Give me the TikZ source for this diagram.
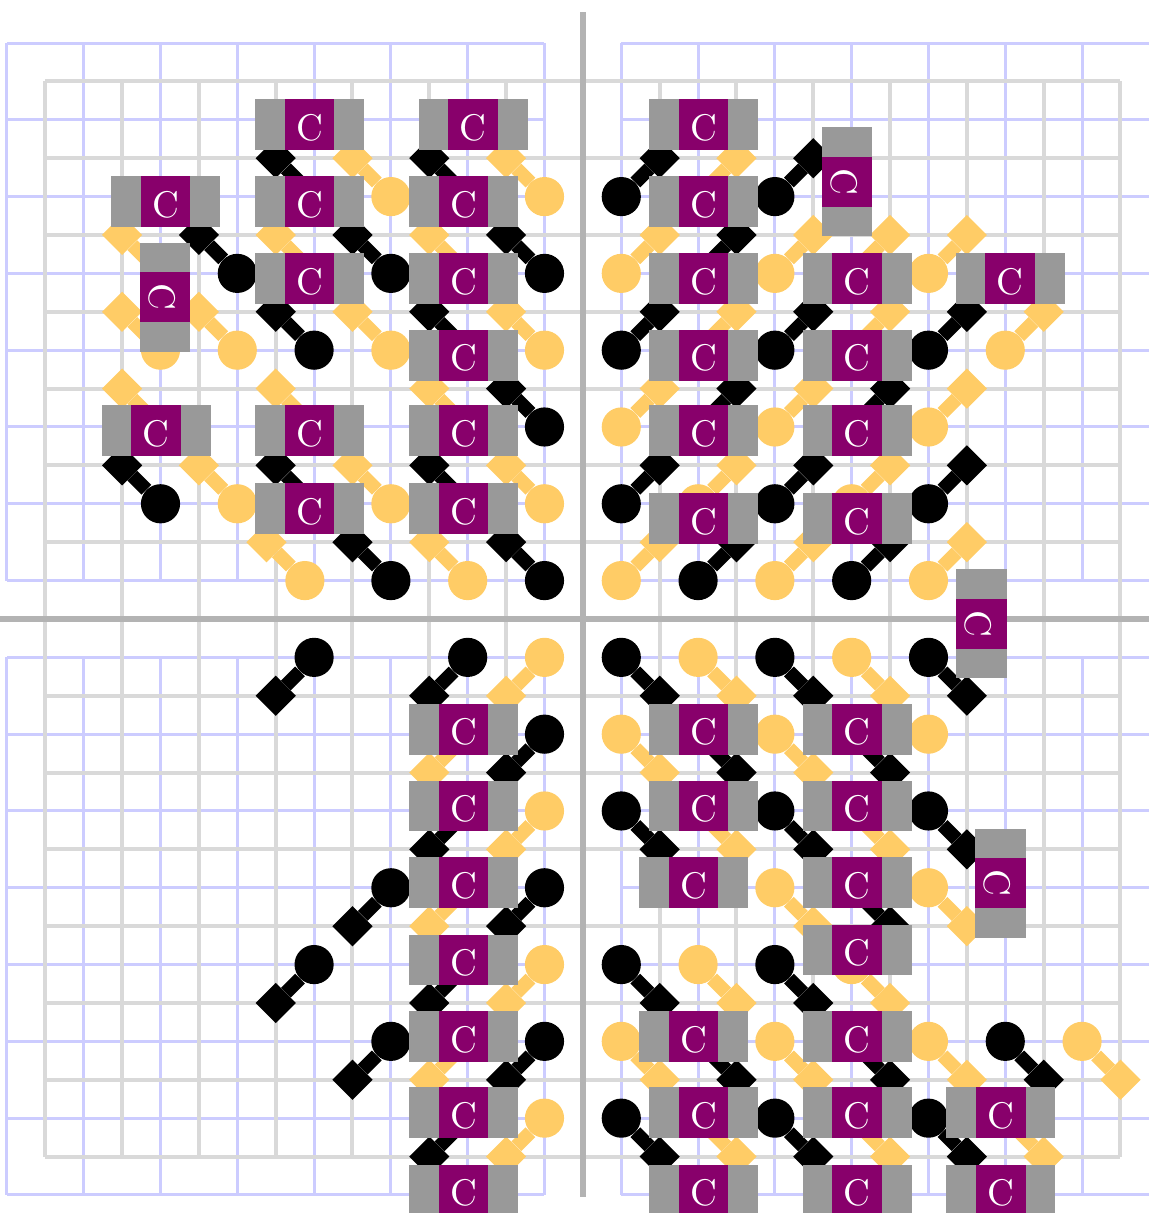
\documentclass[tikz,border=0pt]{standalone}
\usepackage{fontspec}
\newfontfamily\capfont{lmroman10-regular.otf}
\usepackage{tikz}
\usetikzlibrary{calc}
\definecolor{gridgray}{RGB}{217,217,217}
\definecolor{gridblue}{RGB}{204,204,255}
\definecolor{axisgray}{RGB}{179,179,179}
\definecolor{padgray}{RGB}{153,153,153}
\definecolor{chippurple}{RGB}{136,0,107}
\definecolor{amber}{RGB}{255,204,102}

\begin{document}
\begin{tikzpicture}[
    ball/.style={circle, fill=#1, inner sep=0pt, minimum size=1.02cm},
    tip/.style={rectangle, fill=#1, inner sep=0pt, minimum size=0.74cm, rotate=45},
    stick/.style={draw=#1, line width=0.36cm},
    pad/.style={rectangle, fill=padgray, inner sep=0pt, minimum width=2.84cm, minimum height=1.32cm},
    chip/.style={rectangle, fill=chippurple, inner sep=0pt, minimum width=1.3cm, minimum height=1.32cm,
        text=white, text height=0.82cm, text depth=0cm, font=\capfont\fontsize{27.5}{27.5}\selectfont},
    bluegrid/.style={gridblue, line width=0.078cm},
    graygrid/.style={gridgray, line width=0.104cm},
    axisline/.style={axisgray, line width=0.15cm}
]
    \useasboundingbox (-15.18,-15.47) rectangle (14.74,16.12);
    \clip (-15.18,-15.47) rectangle (14.74,16.12);

    % Grids and axes
    \foreach \qx/\qy in {-16/0, 0/0, -16/-16, 0/-16}
        \draw[bluegrid, shift={(1,1)}] (\qx,\qy) grid[step=2] +(14,14);
    \draw[graygrid] (-14,-14) grid[step=2] (14,14);
    \draw[axisline] (-16,0) -- (16,0);
    \draw[axisline] (0,-15.05) -- (0,15.8);

    % Pins, upper left
    \foreach \x/\y/\c [count=\i] in {-1/11/amber, -1/9/black, -1/7/amber, -1/5/black, -1/3/amber, -1/1/black,
        -3/11/black, -3/9/amber, -3/7/black, -3/5/amber, -3/3/black, -3/1/amber,
        -5/11/amber, -5/9/black, -5/7/amber, -5/3/amber, -5/1/black,
        -7/11/black, -7/9/amber, -7/7/black, -7/5/amber, -7/3/black, -7.24/1/amber,
        -9/9/black, -9/7/amber, -9/3/amber,
        -11/9/amber, -11/7/amber, -11/5/amber, -11/3/black}{
        \node[ball=\c] (ulb\i) at (\x,\y) {};
        \node[tip=\c] (ult\i) at (\x-1,\y+1) {};
        \draw[stick=\c] (ulb\i) -- (ult\i);
    }

    % Pins, upper right
    \foreach \x/\y/\c [count=\i] in {1/11/black, 1/9/amber, 1/7/black, 1/5/amber, 1/3/black, 1/1/amber,
        3/11/amber, 3/9/black, 3/7/amber, 3/5/black, 3/3/amber, 3/1/black,
        5/11/black, 5/9/amber, 5/7/black, 5/5/amber, 5/3/black, 5/1/amber,
        7/9/amber, 7/7/amber, 7/5/black, 7/3/amber, 7/1/black,
        9/9/amber, 9/7/black, 9/5/amber, 9/3/black, 9/1/amber,
        11/7/amber}{
        \node[ball=\c] (urb\i) at (\x,\y) {};
        \node[tip=\c] (urt\i) at (\x+1,\y+1) {};
        \draw[stick=\c] (urb\i) -- (urt\i);
    }

    % Pins, lower left
    \foreach \x/\y/\c [count=\i] in {-1/-1/amber, -1/-3/black, -1/-5/amber, -1/-7/black, -1/-9/amber, -1/-11/black, -1/-13/amber,
        -3/-1/black, -3/-3/amber, -3/-5/black, -3/-7/amber, -3/-9/black, -3/-11/amber, -3/-13/black,
        -5/-7/black, -5/-11/black,
        -7/-1/black, -7/-9/black}{
        \node[ball=\c] (llb\i) at (\x,\y) {};
        \node[tip=\c] (llt\i) at (\x-1,\y-1) {};
        \draw[stick=\c] (llb\i) -- (llt\i);
    }

    % Pins, lower right
    \foreach \x/\y/\c [count=\i] in {1/-1/black, 1/-3/amber, 1/-5/black, 1/-9/black, 1/-11/amber, 1/-13/black,
        3/-1/amber, 3/-3/black, 3/-5/amber, 3/-9/amber, 3/-11/black, 3/-13/amber,
        5/-1/black, 5/-3/amber, 5/-5/black, 5/-7/amber, 5/-9/black, 5/-11/amber, 5/-13/black,
        7/-1/amber, 7/-3/black, 7/-5/amber, 7/-7/black, 7/-9/amber, 7/-11/black, 7/-13/amber,
        9/-1/black, 9/-5/black, 9/-7/amber, 9/-11/amber, 9/-13/black,
        11/-11/black, 11/-13/amber, 13/-11/amber}{
        \node[ball=\c] (lrb\i) at (\x,\y) {};
        \node[tip=\c] (lrt\i) at (\x+1,\y-1) {};
        \draw[stick=\c] (lrb\i) -- (lrt\i);
    }
    \node[ball=amber] (lone) at (9,-3) {};

    % Capacitors
    \foreach \x/\y [count=\i] in {-7.12/12.87, -2.86/12.87, -10.87/10.87, -7.12/10.87, -3.11/10.87,
        -7.12/8.87, -3.11/8.87, -3.11/6.87, -11.11/4.9, -7.12/4.9, -3.11/4.9, -7.12/2.87, -3.11/2.87,
        3.14/12.87, 3.14/10.87, 3.14/8.87, 3.14/6.87, 3.14/4.9, 3.14/2.62,
        7.14/8.87, 7.14/6.87, 7.14/4.9, 7.14/2.62, 11.13/8.87,
        -3.11/-2.87, -3.11/-4.87, -3.11/-6.87, -3.11/-8.88, -3.11/-10.88, -3.11/-12.86, -3.11/-14.87,
        3.14/-2.87, 3.14/-4.87, 2.88/-6.87, 2.88/-10.88, 3.14/-12.86, 3.14/-14.87,
        7.14/-2.87, 7.14/-4.87, 7.14/-6.87, 7.14/-8.62, 7.14/-10.88, 7.14/-12.86, 7.14/-14.87,
        10.88/-12.86, 10.88/-14.87}{
        \node[pad] (pad\i) at (\x,\y) {};
        \node[chip] (cap\i) at (pad\i) {C};
    }
    \foreach \x/\y [count=\i] in {-10.88/8.38, 6.88/11.39, 10.38/-0.12, 10.87/-6.88}{
        \node[pad, rotate=-90] (vpad\i) at (\x,\y) {};
        \node[chip, rotate=-90] (vcap\i) at (vpad\i) {C};
    }
\end{tikzpicture}
\end{document}
